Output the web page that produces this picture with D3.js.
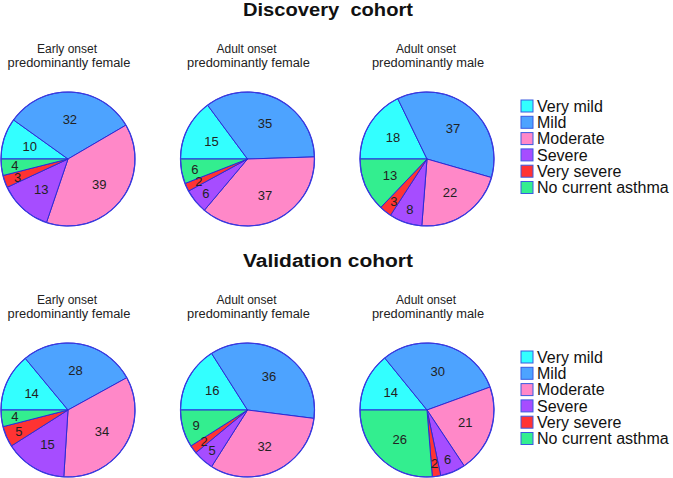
<!DOCTYPE html>
<html><head><meta charset="utf-8">
<script src="https://cdn.jsdelivr.net/npm/d3@7/dist/d3.min.js"></script>
<style>
html,body{margin:0;padding:0;background:#fff;}
svg{display:block;font-family:"Liberation Sans",Arial,sans-serif;}
</style></head>
<body><svg id="chart" width="673" height="478"></svg>
<script>
const categories = ["Very mild","Mild","Moderate","Severe","Very severe","No current asthma"];
const colors = ["#33ffff","#4da3ff","#ff88c8","#a64dff","#ff3333","#33ee8f"];
const cohorts = ["Discovery  cohort","Validation cohort"];
const groupLine1 = ["Early onset","Adult onset","Adult onset"];
const groupLine2 = ["predominantly female","predominantly female","predominantly male"];
const discoveryValues = [[10,32,39,13,3,4],[15,35,37,6,2,6],[18,37,22,8,3,13]];
const validationValues = [[14,28,34,15,5,4],[16,36,32,5,2,9],[14,30,21,6,2,26]];
const cohortValues = [discoveryValues, validationValues];

const svg = d3.select("#chart");
const R = 67;
const xGroup = d3.scalePoint().domain(d3.range(3)).range([68,427]);
const yCohort = d3.scalePoint().domain(d3.range(2)).range([159,410]);
const color = d3.scaleOrdinal().domain(categories).range(colors);
const pie = d3.pie().sort(null).value(d=>d.v).startAngle(-Math.PI/2).endAngle(3*Math.PI/2);
const arc = d3.arc().innerRadius(0).outerRadius(R);
const stroke = "#2b2bd6";

cohorts.forEach((title, ci) => {
  const cy = yCohort(ci);
  svg.append("text").attr("x",328).attr("y",cy-143)
    .attr("text-anchor","middle").attr("font-weight","bold").attr("font-size",18)
    .attr("textLength",170).attr("lengthAdjust","spacingAndGlyphs")
    .attr("fill","#111").attr("xml:space","preserve").style("white-space","pre").text(title);
  cohortValues[ci].forEach((vals, gi) => {
    const cx = xGroup(gi);
    svg.append("text").attr("x",cx-1).attr("y",cy-106).attr("text-anchor","middle")
      .attr("font-size",12).attr("fill","#222").text(groupLine1[gi]);
    const t2 = svg.append("text").attr("x",cx+1).attr("y",cy-92).attr("text-anchor","middle")
      .attr("font-size",12).attr("fill","#222").text(groupLine2[gi]);
    t2.attr("textLength", t2.node().getComputedTextLength()*1.07).attr("lengthAdjust","spacingAndGlyphs");
    const g = svg.append("g").attr("transform",`translate(${cx},${cy})`);
    const pd = pie(vals.map((v,i)=>({v,c:categories[i]})));
    g.selectAll("path").data(pd).join("path")
      .attr("d",arc).attr("fill",d=>color(d.data.c))
      .attr("stroke",stroke).attr("stroke-width",1).attr("stroke-linejoin","round");
    g.append("circle").attr("r",R).attr("fill","none").attr("stroke","#3a3ae0").attr("stroke-width",1.2);
    g.selectAll("text").data(pd).join("text")
      .attr("transform",d=>{
        const lr = d.data.v < 10 ? R*0.8 : R*0.6;
        const c = d3.arc().innerRadius(lr).outerRadius(lr).centroid(d);
        return `translate(${c[0]},${c[1]})`;
      })
      .attr("text-anchor","middle").attr("dy","0.36em")
      .attr("font-size",13).attr("fill","#222").text(d=>d.data.v);
  });
  // legend
  const lg = svg.append("g").attr("transform",`translate(521,${cy-53})`);
  const ly = d3.scalePoint().domain(categories).range([0,81.5]);
  categories.forEach(c => {
    lg.append("rect").attr("x",0).attr("y",ly(c)-6).attr("width",12).attr("height",12)
      .attr("fill",color(c)).attr("stroke","#3a5ae0").attr("stroke-width",1);
    lg.append("text").attr("x",16).attr("y",ly(c)).attr("dy","0.36em")
      .attr("font-size",16).attr("fill","#111").text(c);
  });
});
</script></body></html>
